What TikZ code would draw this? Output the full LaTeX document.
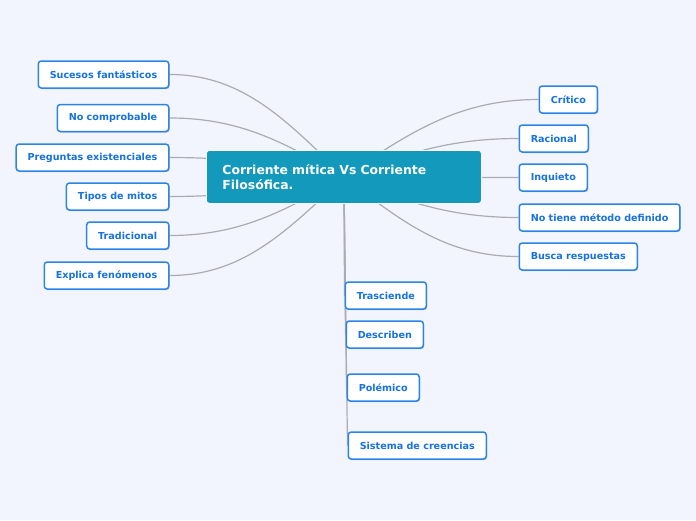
\documentclass[tikz,border=0pt]{standalone}
\usepackage{fontspec}
\setmainfont{DejaVu Sans}
\usetikzlibrary{calc, backgrounds, shadows}
\definecolor{bgblue}{HTML}{F2F5FD}
\definecolor{rootteal}{HTML}{1399BB}
\definecolor{leafblue}{HTML}{2B85E6}
\definecolor{leaftext}{HTML}{1672E0}
\definecolor{linkgray}{HTML}{ABABB5}
\tikzset{
  leaf/.style={draw=leafblue, line width=1.5pt, fill=white, rounded corners=3pt,
    minimum height=27pt, inner xsep=11.5pt, inner ysep=0pt, text=leaftext,
    font=\fontsize{9.6}{11}\selectfont\bfseries,
    drop shadow={shadow xshift=0.8pt, shadow yshift=-1.2pt, opacity=0.35, fill=black!60}},
  link/.style={draw=linkgray, line width=1.2pt},
}

\begin{document}
\begin{tikzpicture}[x=1pt, y=-1pt]
  \useasboundingbox (0,0) rectangle (696,520);
  % central topic
  \node[fill=rootteal, draw=white, line width=0.8pt, rounded corners=3pt, anchor=north west,
        minimum width=275pt, minimum height=53pt, text width=243pt, inner xsep=16pt,
        align=left, text=white, font=\fontsize{12.4}{15}\selectfont\bfseries]
        (root) at (206,150) {Corriente mítica Vs Corriente Filosófica.};

  % left branch
  \node[leaf, anchor=east] (suc) at (169.5,74.5) {Sucesos fantásticos};
  \node[leaf, anchor=east] (noc) at (169.5,118) {No comprobable};
  \node[leaf, anchor=east] (pre) at (169.5,157.5) {Preguntas existenciales};
  \node[leaf, anchor=east] (tip) at (169.5,196.5) {Tipos de mitos};
  \node[leaf, anchor=east] (tra) at (169.5,235.5) {Tradicional};
  \node[leaf, anchor=east] (exp) at (169.5,275.5) {Explica fenómenos};

  % right branch
  \node[leaf, anchor=west] (cri) at (538.5,99.5) {Crítico};
  \node[leaf, anchor=west] (rac) at (518.5,138.5) {Racional};
  \node[leaf, anchor=west] (inq) at (518.5,177.5) {Inquieto};
  \node[leaf, anchor=west] (nom) at (518.5,217.5) {No tiene método definido};
  \node[leaf, anchor=west] (bus) at (518.5,256.5) {Busca respuestas};

  % bottom branch
  \node[leaf, anchor=west] (trs) at (344.5,295.5) {Trasciende};
  \node[leaf, anchor=west] (des) at (345.5,334.5) {Describen};
  \node[leaf, anchor=west] (pol) at (346.5,387.5) {Polémico};
  \node[leaf, anchor=west] (sis) at (347.5,445.5) {Sistema de creencias};

  \begin{scope}[on background layer]
    \fill[bgblue] (0,0) rectangle (696,520);
    \foreach \leaf in {suc,noc,pre,tip,tra,exp}
      \draw[link] let \p1=(root.center), \p2=(\leaf.east) in
        (\p1) .. controls ({\x1+0.35*(\x2-\x1)},{\y1+0.6*(\y2-\y1)})
        and ({\x2-0.4*(\x2-\x1)},\y2) .. (\p2);
    \foreach \leaf in {cri,rac,inq,nom,bus}
      \draw[link] let \p1=(root.center), \p2=(\leaf.west) in
        (\p1) .. controls ({\x1+0.35*(\x2-\x1)},{\y1+0.6*(\y2-\y1)})
        and ({\x2-0.4*(\x2-\x1)},\y2) .. (\p2);
    \foreach \leaf in {trs,des,pol,sis}
      \draw[link] (root.center) -- (\leaf.west);
  \end{scope}
\end{tikzpicture}
\end{document}
